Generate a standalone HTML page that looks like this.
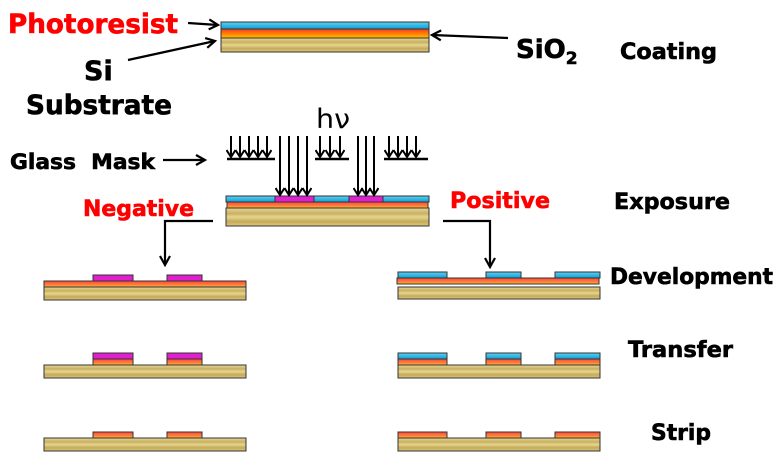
<!DOCTYPE html>
<html><head><meta charset="utf-8"><style>html,body{margin:0;padding:0;background:#fff}svg{display:block}text{font-family:"DejaVu Sans","Liberation Sans",sans-serif;font-weight:bold;stroke-width:0.6}</style></head><body>
<svg width="781" height="466" viewBox="0 0 781 466" xmlns="http://www.w3.org/2000/svg">
<defs>
<linearGradient id="sub" x1="0" y1="0" x2="0" y2="1"><stop offset="0" stop-color="#e8d89a"/><stop offset="0.3" stop-color="#c9b060"/><stop offset="0.5" stop-color="#e6d590"/><stop offset="0.75" stop-color="#c4aa58"/><stop offset="1" stop-color="#dcc87f"/></linearGradient>
<linearGradient id="blu" x1="0" y1="0" x2="0" y2="1"><stop offset="0" stop-color="#5fd0f0"/><stop offset="1" stop-color="#0aa0d8"/></linearGradient>
<linearGradient id="ora" x1="0" y1="0" x2="0" y2="1"><stop offset="0" stop-color="#ff3a20"/><stop offset="0.6" stop-color="#ff8a00"/><stop offset="1" stop-color="#ffc000"/></linearGradient>
<linearGradient id="red" x1="0" y1="0" x2="0" y2="1"><stop offset="0" stop-color="#ff4a3a"/><stop offset="0.6" stop-color="#ff7a40"/><stop offset="1" stop-color="#ffc020"/></linearGradient>
<marker id="ah" markerWidth="12" markerHeight="12" refX="10" refY="6" orient="auto" markerUnits="userSpaceOnUse"><path d="M1,1 L10,6 L1,11" fill="none" stroke="#000" stroke-width="2.2"/></marker>
<marker id="dh" markerWidth="10" markerHeight="10" refX="5" refY="8" orient="0" markerUnits="userSpaceOnUse"><path d="M0.5,1 L5,8 L9.5,1" fill="none" stroke="#000" stroke-width="2"/></marker>
</defs>
<g stroke="#333" stroke-width="1">
<rect x="221" y="38" width="208" height="14" fill="url(#sub)"/>
<rect x="221" y="29" width="208" height="9" fill="url(#ora)"/>
<rect x="221" y="22" width="208" height="7" fill="url(#blu)"/>
<rect x="226" y="208" width="203" height="18" fill="url(#sub)"/>
<rect x="227" y="202" width="201" height="6" fill="url(#red)"/>
<rect x="226" y="196" width="49" height="6" fill="url(#blu)"/>
<rect x="275" y="196" width="39" height="6" fill="#e020d0"/>
<rect x="314" y="196" width="35" height="6" fill="url(#blu)"/>
<rect x="349" y="196" width="34" height="6" fill="#e020d0"/>
<rect x="383" y="196" width="46" height="6" fill="url(#blu)"/>
<rect x="44" y="287" width="202" height="13" fill="url(#sub)"/>
<rect x="44" y="281" width="202" height="6" fill="url(#red)"/>
<rect x="93" y="275" width="40" height="6" fill="#e020d0"/>
<rect x="167" y="275" width="35" height="6" fill="#e020d0"/>
<rect x="44" y="365" width="202" height="13" fill="url(#sub)"/>
<rect x="93" y="359" width="40" height="6" fill="url(#red)"/><rect x="93" y="353" width="40" height="6" fill="#e020d0"/>
<rect x="167" y="359" width="35" height="6" fill="url(#red)"/><rect x="167" y="353" width="35" height="6" fill="#e020d0"/>
<rect x="44" y="438" width="202" height="13" fill="url(#sub)"/>
<rect x="93" y="432" width="40" height="6" fill="url(#red)"/>
<rect x="167" y="432" width="35" height="6" fill="url(#red)"/>
<rect x="398" y="287" width="202" height="12" fill="url(#sub)"/>
<rect x="397" y="278" width="202" height="6" fill="url(#red)"/>
<rect x="398" y="272" width="49" height="6" fill="url(#blu)"/>
<rect x="486" y="272" width="35" height="6" fill="url(#blu)"/>
<rect x="555" y="272" width="45" height="6" fill="url(#blu)"/>
<rect x="398" y="365" width="202" height="13" fill="url(#sub)"/>
<rect x="398" y="359" width="49" height="6" fill="url(#red)"/><rect x="398" y="353" width="49" height="6" fill="url(#blu)"/>
<rect x="486" y="359" width="35" height="6" fill="url(#red)"/><rect x="486" y="353" width="35" height="6" fill="url(#blu)"/>
<rect x="555" y="359" width="45" height="6" fill="url(#red)"/><rect x="555" y="353" width="45" height="6" fill="url(#blu)"/>
<rect x="398" y="438" width="202" height="13" fill="url(#sub)"/>
<rect x="398" y="432" width="49" height="6" fill="url(#red)"/>
<rect x="486" y="432" width="35" height="6" fill="url(#red)"/>
<rect x="555" y="432" width="45" height="6" fill="url(#red)"/>
</g>
<g stroke="#000" stroke-width="2.5">
<line x1="227" y1="159" x2="275" y2="159"/><line x1="315" y1="159" x2="349" y2="159"/><line x1="384" y1="159" x2="428" y2="159"/>
</g>
<g stroke="#000" stroke-width="2" marker-end="url(#dh)">
<line x1="231" y1="136" x2="231" y2="157"/><line x1="240" y1="136" x2="240" y2="157"/><line x1="249" y1="136" x2="249" y2="157"/><line x1="258" y1="136" x2="258" y2="157"/><line x1="267" y1="136" x2="267" y2="157"/>
<line x1="320" y1="136" x2="320" y2="157"/><line x1="330" y1="136" x2="330" y2="157"/><line x1="340" y1="136" x2="340" y2="157"/>
<line x1="389" y1="136" x2="389" y2="157"/><line x1="398" y1="136" x2="398" y2="157"/><line x1="407" y1="136" x2="407" y2="157"/><line x1="416" y1="136" x2="416" y2="157"/>
<line x1="280" y1="136" x2="280" y2="195"/><line x1="289" y1="136" x2="289" y2="195"/><line x1="298" y1="136" x2="298" y2="195"/><line x1="307" y1="136" x2="307" y2="195"/>
<line x1="358" y1="136" x2="358" y2="195"/><line x1="366" y1="136" x2="366" y2="195"/><line x1="374" y1="136" x2="374" y2="195"/>
</g>
<g stroke="#000" stroke-width="2.2" fill="none" marker-end="url(#ah)">
<line x1="188" y1="23" x2="218" y2="25"/>
<line x1="128" y1="60" x2="215" y2="41"/>
<line x1="508" y1="38" x2="432" y2="35"/>
<line x1="163" y1="160" x2="205" y2="160"/>
<polyline points="213,221 165,221 165,265"/>
<polyline points="443,221 490,221 490,267"/>
</g>
<text x="8" y="33" font-size="27" fill="#ff0000" stroke="#ff0000" textLength="170" lengthAdjust="spacingAndGlyphs">Photoresist</text>
<text x="84" y="80" font-size="27" fill="#000" stroke="#000">Si</text>
<text x="26" y="114" font-size="27" fill="#000" stroke="#000" textLength="146" lengthAdjust="spacingAndGlyphs">Substrate</text>
<text x="10" y="169" font-size="21" fill="#000" stroke="#000" textLength="145" lengthAdjust="spacingAndGlyphs">Glass&#160; Mask</text>
<text x="83" y="216" font-size="22" fill="#ff0000" stroke="#ff0000" textLength="111" lengthAdjust="spacingAndGlyphs">Negative</text>
<text x="450" y="208" font-size="22" fill="#ff0000" stroke="#ff0000" textLength="100" lengthAdjust="spacingAndGlyphs">Positive</text>
<text x="316" y="128" font-size="27" style="font-weight:normal" fill="#000" textLength="34" lengthAdjust="spacingAndGlyphs">hν</text>
<text x="516" y="58" font-size="26" fill="#000" stroke="#000">SiO<tspan font-size="17" dy="6">2</tspan></text>
<text x="620" y="59" font-size="22" fill="#000" stroke="#000" textLength="97" lengthAdjust="spacingAndGlyphs">Coating</text>
<text x="614" y="209" font-size="22" fill="#000" stroke="#000" textLength="116" lengthAdjust="spacingAndGlyphs">Exposure</text>
<text x="610" y="284" font-size="22" fill="#000" stroke="#000" textLength="163" lengthAdjust="spacingAndGlyphs">Development</text>
<text x="628" y="357" font-size="22" fill="#000" stroke="#000" textLength="105" lengthAdjust="spacingAndGlyphs">Transfer</text>
<text x="651" y="440" font-size="22" fill="#000" stroke="#000" textLength="60" lengthAdjust="spacingAndGlyphs">Strip</text>
</svg>
</body></html>
